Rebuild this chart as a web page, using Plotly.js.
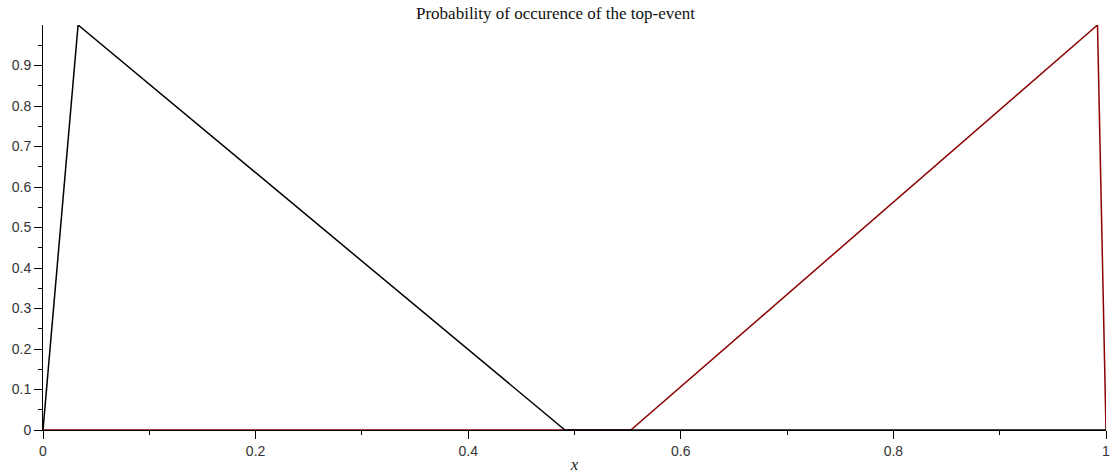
<!DOCTYPE html>
<html>
<head>
<meta charset="utf-8">
<script src="https://cdn.plot.ly/plotly-3.0.1.min.js"></script>
<style>html,body{margin:0;padding:0;background:#fff;}#chart{width:1111px;height:476px;}</style>
</head>
<body>
<div id="chart"></div>
<script>
const blackX = [0, 0.033, 0.491, 1];
const blackY = [0, 1, 0, 0];
const redX = [0, 0.553, 0.992, 1];
const redY = [0, 0, 1, 0];
const yTickVals = [0, 0.1, 0.2, 0.3, 0.4, 0.5, 0.6, 0.7, 0.8, 0.9];
const yTickText = ['0', '0.1', '0.2', '0.3', '0.4', '0.5', '0.6', '0.7', '0.8', '0.9'];
const xTickVals = [0, 0.2, 0.4, 0.6, 0.8, 1];
const xTickText = ['0', '0.2', '0.4', '0.6', '0.8', '1'];

const serif = '"Liberation Serif", "DejaVu Serif", serif';
const sans = '"Liberation Sans", Arial, sans-serif';
const tickFont = {family: sans, size: 14, color: '#333'};

const data = [
  {x: redX, y: redY, type: 'scatter', mode: 'lines', line: {color: '#8b0000', width: 1.5}, hoverinfo: 'skip'},
  {x: blackX, y: blackY, type: 'scatter', mode: 'lines', line: {color: '#000000', width: 1.5}, hoverinfo: 'skip'}
];

const layout = {
  width: 1111, height: 476,
  margin: {l: 43, r: 5, t: 25, b: 46},
  paper_bgcolor: '#fff', plot_bgcolor: '#fff',
  showlegend: false,
  font: tickFont,
  title: {text: 'Probability of occurence of the top-event', font: {family: serif, size: 17, color: '#111'}, x: 0.5, xref: 'container', xanchor: 'center', y: 0.972, yref: 'container', yanchor: 'middle'},
  xaxis: {
    range: [0, 1], showgrid: false, zeroline: false, layer: 'below traces',
    showline: true, linecolor: '#000', linewidth: 1,
    ticks: 'outside', ticklen: 8, tickcolor: '#000', tickwidth: 1,
    tickmode: 'array', tickvals: xTickVals, ticktext: xTickText,
    ticklabeloverflow: 'allow',
    minor: {tickmode: 'array', tickvals: [0.1, 0.3, 0.5, 0.7, 0.9], ticks: 'outside', ticklen: 4, tickcolor: '#000', showgrid: false},
    tickfont: tickFont,
    title: {text: 'x', font: {family: serif, size: 17, color: '#222', style: 'italic'}, standoff: 0}
  },
  yaxis: {
    range: [0, 1], showgrid: false, zeroline: false, layer: 'below traces',
    showline: true, linecolor: '#000', linewidth: 1,
    ticks: 'outside', ticklen: 8, tickcolor: '#000', tickwidth: 1,
    tickmode: 'array', tickvals: yTickVals, ticktext: yTickText,
    minor: {tickmode: 'array', tickvals: [0.05, 0.15, 0.25, 0.35, 0.45, 0.55, 0.65, 0.75, 0.85, 0.95], ticks: 'outside', ticklen: 4, tickcolor: '#000', showgrid: false},
    tickfont: tickFont
  }
};

Plotly.newPlot('chart', data, layout, {staticPlot: true, displayModeBar: false});
</script>
</body>
</html>
